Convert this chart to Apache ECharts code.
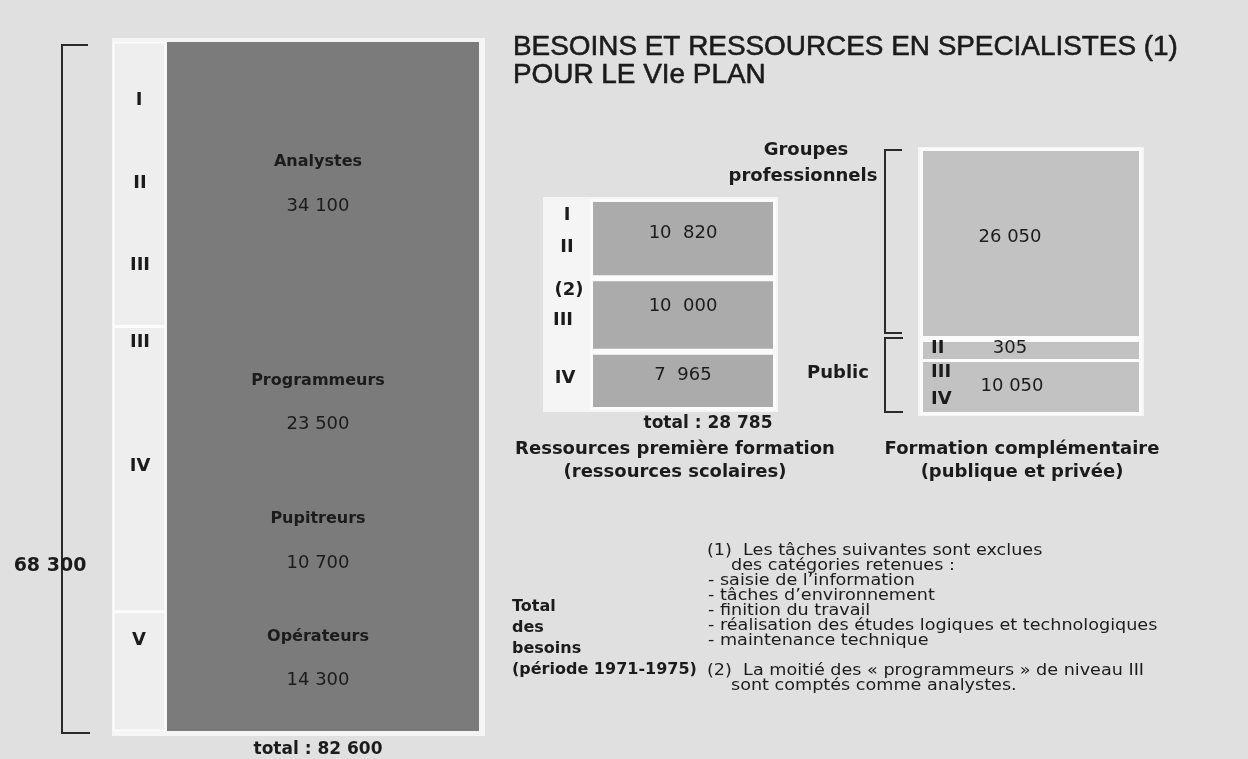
<!DOCTYPE html>
<html>
<head>
<meta charset="utf-8">
<script src="https://cdn.jsdelivr.net/npm/echarts@6/dist/echarts.min.js"></script>
<style>
html,body{margin:0;padding:0;background:#e0e0e0;}
#c{width:1248px;height:759px;}
</style>
</head>
<body>
<div id="c"></div>
<script>
// ---------------- DATA ----------------
const besoinCategories = ['Analystes', 'Programmeurs', 'Pupitreurs', 'Opérateurs'];
const besoinValues = [34100, 23500, 10700, 14300];
const besoinTotal = 82600;
const besoinBracketValue = 68300;
const besoinLevelGroups = ['I-II-III', 'III-IV', 'V'];

const ressourcesLevels = ['I II', '(2) III', 'IV'];
const ressourcesValues = [10820, 10000, 7965];
const ressourcesTotal = 28785;

const complementLabels = ['Groupes professionnels', 'Public II', 'Public III IV'];
const complementValues = [26050, 305, 10050];

// ---------------- STYLE / LAYOUT ----------------
const BG = '#e0e0e0', CARD = '#f5f5f5', DARK = '#7b7b7b', MID = '#ababab', LIGHT = '#c2c2c2', INK = '#1b1b1b';
const SANS = '"DejaVu Sans", Verdana, sans-serif';
const k = 0.007334; // px per unit for the two resource blocks
const complementTotal = complementValues.reduce((a, b) => a + b, 0);
const stripValues = [besoinValues[0], besoinValues[1] + besoinValues[2], besoinValues[3]];
const fmt = (v, sep) => String(v).replace(/\B(?=(\d{3})+(?!\d))/g, sep || ' ');

const chart = echarts.init(document.getElementById('c'));

const catAxis = i => ({type: 'category', gridIndex: i, data: ['x'], show: false});
const valAxis = (i, max) => ({type: 'value', gridIndex: i, min: 0, max: max, inverse: true, show: false});

const bigLabelOffsets = [0, -22, -26, -13];
const series = [];

besoinCategories.forEach((name, i) => {
  series.push({
    type: 'bar', name: name, xAxisIndex: 0, yAxisIndex: 0, stack: 'besoins',
    data: [besoinValues[i]], barWidth: '100%', silent: true,
    itemStyle: {color: DARK},
    label: {
      show: true, position: 'inside', offset: [-5, bigLabelOffsets[i]],
      formatter: () => '{n|' + name + '}\n{v|' + fmt(besoinValues[i]) + '}',
      rich: {
        n: {fontFamily: SANS, fontWeight: 'bold', fontSize: 16, color: INK, lineHeight: 44},
        v: {fontFamily: SANS, fontSize: 18, color: INK, lineHeight: 44}
      }
    }
  });
});

stripValues.forEach((v, i) => {
  series.push({
    type: 'bar', name: besoinLevelGroups[i], xAxisIndex: 1, yAxisIndex: 1, stack: 'niveaux',
    data: [v], barWidth: '100%', silent: true,
    itemStyle: {color: '#eeeeee', borderColor: '#fcfcfc', borderWidth: 1.5}
  });
});

const midOffsets = [[0, -5], [0, -9], [0, -6]];
ressourcesValues.forEach((v, i) => {
  series.push({
    type: 'bar', name: ressourcesLevels[i], xAxisIndex: 2, yAxisIndex: 2, stack: 'ressources',
    data: [v], barWidth: '100%', silent: true,
    itemStyle: {color: MID, borderColor: '#fbfbfb', borderWidth: 3},
    label: {show: true, position: 'inside', color: INK, fontFamily: SANS, fontSize: 18,
      offset: midOffsets[i], formatter: () => fmt(v, '  ')}
  });
});

const compOffsets = [[-21, -6], [-21, -2], [-19, 8]];
complementValues.forEach((v, i) => {
  series.push({
    type: 'bar', name: complementLabels[i], xAxisIndex: 3, yAxisIndex: 3, stack: 'complement',
    data: [v], barWidth: '100%', silent: true, z: i === 1 ? 4 : 2,
    barMinHeight: i === 1 ? 23 : 0,
    itemStyle: {color: LIGHT, borderColor: '#fbfbfb', borderWidth: 3},
    label: {show: true, position: 'inside', color: INK, fontFamily: SANS, fontSize: 18,
      offset: compOffsets[i], formatter: () => fmt(v)}
  });
});

chart.setOption({
  backgroundColor: BG,
  animation: false,
  grid: [
    {left: 167, top: 42, width: 312, height: 689, show: true, backgroundColor: DARK, borderWidth: 0, z: 1},
    {left: 113, top: 42, width: 53, height: 689},
    {left: 590, top: 199, width: 186, height: ressourcesTotal * k},
    {left: 920, top: 148, width: 222, height: complementTotal * k}
  ],
  xAxis: [catAxis(0), catAxis(1), catAxis(2), catAxis(3)],
  yAxis: [valAxis(0, besoinTotal), valAxis(1, besoinTotal), valAxis(2, ressourcesTotal), valAxis(3, complementTotal)],
  series: series
});

// ---------------- ANNOTATIONS ----------------
const py = (g, v) => chart.convertToPixel({gridIndex: g}, [0, v])[1];

function txt(x, y, text, font, align, extra, sx) {
  const el = {
    type: 'text', x: x, y: y, z: 50,
    style: Object.assign({text: text, font: font, fill: INK, align: align || 'center', textAlign: align || 'center',
      verticalAlign: 'middle', textVerticalAlign: 'middle'}, extra || {})
  };
  if (sx) el.scaleX = sx;
  return el;
}
function line(points) {
  return {type: 'polyline', z: 40, shape: {points: points}, style: {stroke: '#2a2a2a', lineWidth: 2, fill: null}};
}
const B18 = 'bold 18px ' + SANS, B17 = 'bold 17px ' + SANS, B16 = 'bold 16px ' + SANS, R16 = '16px ' + SANS;
const TITLE = '27.9px "Liberation Sans", Arial, sans-serif';
const FS = 1.1; // horizontal stretch of the footnote face

const yb0 = py(0, 0), yb1 = py(0, besoinTotal);
const yc0 = py(3, 0), yc1 = py(3, complementValues[0]), yc2 = py(3, complementTotal);
const yr1 = py(2, ressourcesTotal);

const graphics = [
  // cards (kept behind the plot grids)
  {type: 'rect', z: -10, shape: {x: 112, y: 38, width: 373, height: 698}, style: {fill: CARD}},
  {type: 'rect', z: -10, shape: {x: 543, y: 197, width: 235, height: 215}, style: {fill: CARD}},
  {type: 'rect', z: -10, shape: {x: 918, y: 147, width: 226, height: 269}, style: {fill: CARD}},
  // brackets
  line([[88, yb0 + 3], [62, yb0 + 3], [62, yb1 + 2], [90, yb1 + 2]]),
  line([[902, yc0 + 2], [885, yc0 + 2], [885, yc1 - 6], [902, yc1 - 6]]),
  line([[903, yc1 - 1], [885, yc1 - 1], [885, yc2 - 3], [903, yc2 - 3]]),
  // title
  txt(513, 47, 'BESOINS ET RESSOURCES EN SPECIALISTES (1)', TITLE, 'left', {stroke: INK, lineWidth: 0.6}),
  txt(513, 75, 'POUR LE VIe PLAN', TITLE, 'left', {stroke: INK, lineWidth: 0.6}),
  // big bar levels
  txt(139, 100, 'I', B18), txt(140, 183, 'II', B18), txt(140, 265, 'III', B18),
  txt(140, 342, 'III', B18), txt(140, 466, 'IV', B18), txt(139, 640, 'V', B18),
  txt(50, 566, fmt(besoinBracketValue), 'bold 19px ' + SANS),
  txt(318, yb1 + 19, 'total : ' + fmt(besoinTotal), B17),
  txt(512, 638, 'Total\ndes\nbesoins\n(période 1971-1975)', B16, 'left', {lineHeight: 21}),
  // middle block
  txt(567, 215, 'I', B18), txt(567, 247, 'II', B18), txt(569, 290, '(2)', B18),
  txt(563, 320, 'III', B18), txt(565, 378, 'IV', B18),
  txt(708, yr1 + 13, 'total : ' + fmt(ressourcesTotal), B17),
  txt(675, 449, 'Ressources première formation', B18),
  txt(675, 472, '(ressources scolaires)', B18),
  // right block
  txt(806, 150, 'Groupes', B18), txt(803, 176, 'professionnels', B18),
  txt(838, 373, 'Public', B18),
  txt(931, 348, 'II', B18, 'left'), txt(931, 372, 'III', B18, 'left'), txt(931, 399, 'IV', B18, 'left'),
  txt(1022, 449, 'Formation complémentaire', B18),
  txt(1022, 472, '(publique et privée)', B18),
  // footnotes
  txt(707, 551, '(1)  Les tâches suivantes sont exclues', R16, 'left', null, FS),
  txt(731, 566, 'des catégories retenues :', R16, 'left', null, FS),
  txt(708, 611, '- saisie de l’information\n- tâches d’environnement\n- finition du travail\n- réalisation des études logiques et technologiques\n- maintenance technique', R16, 'left', {lineHeight: 15}, FS),
  txt(707, 671, '(2)  La moitié des « programmeurs » de niveau III', R16, 'left', null, FS),
  txt(731, 686, 'sont comptés comme analystes.', R16, 'left', null, FS)
];

chart.setOption({graphic: {elements: graphics}});
</script>
</body>
</html>
